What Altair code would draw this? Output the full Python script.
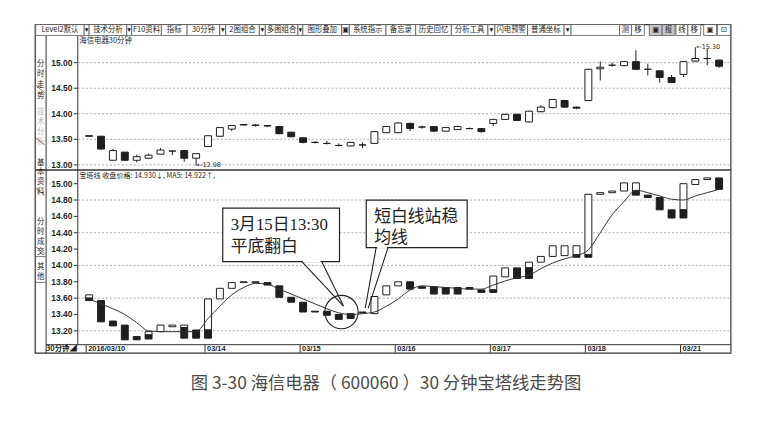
import altair as alt
import pandas as pd

# ------------------------------------------------------------------ data
idx = list(range(54))
opens = [13.57, 13.56, 13.09, 13.25, 13.09, 13.13, 13.21, 13.27, 13.28, 13.13,
         13.36, 13.56, 13.70, 13.79, 13.78, 13.77, 13.75, 13.64, 13.53, 13.44,
         13.42, 13.38, 13.37, 13.39, 13.42, 13.63, 13.63, 13.81, 13.74, 13.75,
         13.66, 13.69, 13.71, 13.71, 13.81, 13.89, 13.99, 13.84, 14.04, 14.12,
         14.26, 14.13, 14.26, 14.88, 14.95, 14.94, 15.02, 14.87, 14.84, 14.71,
         14.77, 15.03, 15.08, 15.05]
closes = [13.56, 13.31, 13.28, 13.09, 13.16, 13.19, 13.29, 13.27, 13.13, 13.22,
          13.57, 13.73, 13.77, 13.78, 13.77, 13.76, 13.61, 13.55, 13.44, 13.44,
          13.42, 13.38, 13.44, 13.39, 13.65, 13.75, 13.82, 13.71, 13.74, 13.66,
          13.73, 13.75, 13.71, 13.65, 13.89, 13.99, 13.87, 14.05, 14.13, 14.28,
          14.13, 14.11, 14.87, 14.91, 14.95, 15.02, 14.87, 14.87, 14.71, 14.61,
          15.02, 15.08, 15.08, 14.93]
highs = [13.58, 13.57, 13.31, 13.25, 13.20, 13.22, 13.33, 13.28, 13.29, 13.22,
         13.58, 13.74, 13.78, 13.80, 13.80, 13.78, 13.76, 13.64, 13.54, 13.46,
         13.47, 13.42, 13.45, 13.44, 13.66, 13.76, 13.83, 13.83, 13.77, 13.75,
         13.73, 13.77, 13.73, 13.72, 13.90, 14.00, 14.00, 14.06, 14.17, 14.28,
         14.27, 14.14, 14.88, 15.02, 15.00, 15.03, 15.24, 14.98, 14.85, 14.76,
         15.03, 15.30, 15.27, 15.06]
lows = [13.55, 13.30, 13.09, 13.08, 13.05, 13.11, 13.21, 13.19, 13.06, 12.98,
        13.35, 13.55, 13.66, 13.77, 13.75, 13.74, 13.60, 13.54, 13.42, 13.42,
        13.40, 13.36, 13.36, 13.33, 13.41, 13.62, 13.62, 13.66, 13.71, 13.64,
        13.66, 13.69, 13.70, 13.63, 13.76, 13.88, 13.86, 13.83, 14.03, 14.11,
        14.12, 14.09, 14.25, 14.65, 14.92, 14.93, 14.86, 14.75, 14.61, 14.60,
        14.72, 15.02, 14.95, 14.90]

ma5 = [13.59, 13.53, 13.47, 13.40, 13.30, 13.20, 13.19, 13.19, 13.19, 13.19,
       13.35, 13.50, 13.64, 13.73, 13.78, 13.77, 13.71, 13.65, 13.59, 13.53,
       13.47, 13.42, 13.40, 13.41, 13.43, 13.50, 13.59, 13.70, 13.75, 13.74,
       13.73, 13.72, 13.71, 13.71, 13.76, 13.81, 13.85, 13.88, 13.96, 14.03,
       14.08, 14.12, 14.19, 14.40, 14.62, 14.78, 14.92, 14.89, 14.85, 14.81,
       14.80, 14.85, 14.89, 14.93]

tower_i = [0, 0, 1, 2, 3, 4, 5, 5, 6, 7, 8, 8, 9, 10, 10, 11, 12, 13, 14, 15,
           16, 17, 18, 19, 20, 21, 22, 23, 24, 25, 26, 27, 28, 29, 30, 31, 32, 33,
           34, 34, 35, 36, 37, 37, 38, 39, 40, 41, 41, 42, 42, 43, 44, 45, 46, 46,
           47, 48, 49, 50, 50, 51, 52, 53]
tower_top = [13.64, 13.60, 13.57, 13.32, 13.27, 13.13, 13.19, 13.15, 13.27, 13.27,
             13.27, 13.24, 13.21, 13.59, 13.21, 13.72, 13.79, 13.80, 13.80, 13.79,
             13.75, 13.61, 13.55, 13.44, 13.44, 13.40, 13.41, 13.43, 13.62, 13.75,
             13.80, 13.80, 13.74, 13.74, 13.73, 13.73, 13.73, 13.70,
             13.87, 13.70, 13.97, 13.97, 14.04, 13.97, 14.11, 14.24, 14.24, 14.24, 14.13,
             14.87, 14.13, 14.89, 14.91, 15.01, 15.01, 14.91,
             14.86, 14.83, 14.68, 15.00, 14.68, 15.05, 15.07, 15.07]
tower_bot = [13.60, 13.57, 13.31, 13.26, 13.09, 13.09, 13.15, 13.10, 13.19, 13.25,
             13.24, 13.11, 13.11, 13.21, 13.11, 13.59, 13.72, 13.79, 13.79, 13.76,
             13.61, 13.55, 13.43, 13.43, 13.39, 13.34, 13.35, 13.42, 13.41, 13.64,
             13.75, 13.71, 13.72, 13.65, 13.65, 13.65, 13.71, 13.67,
             13.70, 13.67, 13.86, 13.84, 13.97, 13.84, 14.04, 14.11, 14.12, 14.13, 14.10,
             14.13, 14.10, 14.87, 14.89, 14.91, 14.91, 14.86,
             14.83, 14.68, 14.58, 14.68, 14.58, 14.99, 15.05, 14.93]
tower_kind = ["up", "down", "down", "down", "down", "down", "up", "down", "up", "up",
              "up", "down", "down", "up", "down", "up", "up", "up", "up", "down",
              "down", "down", "down", "down", "down", "down", "down", "down", "up", "up",
              "up", "down", "down", "down", "down", "down", "down", "down",
              "up", "down", "up", "down", "up", "down", "up", "up", "up", "up", "down",
              "up", "down", "up", "up", "up", "up", "down",
              "down", "down", "down", "up", "down", "up", "up", "down"]

day_start = [0, 10, 18, 26, 34, 42, 50]
day_label = ["2016/03/10", "03/14", "03/15", "03/16", "03/17", "03/18", "03/21"]

upper_ticks = [15.00, 14.50, 14.00, 13.50, 13.00]
lower_ticks = [15.00, 14.80, 14.60, 14.40, 14.20, 14.00, 13.80, 13.60, 13.40, 13.20]
lower_grid = [14.80, 14.40, 14.00, 13.60, 13.20]

marker_i = [9, 51]
marker_v = [12.98, 15.30]
marker_t = ["←12.98", "←15.30"]

toolbar_items = [("Level2默认", 36, 85), ("▾", 85, 90), ("技术分析", 90, 128), ("▾", 128, 133),
                 ("F10资料", 133, 163), ("指标", 163, 189), ("30分钟", 189, 222), ("▾", 222, 228),
                 ("2图组合", 228, 262), ("▾", 262, 268), ("多图组合", 268, 301), ("▾", 301, 306),
                 ("图形叠加", 306, 345), ("▣", 345, 353), ("系统指示", 353, 390), ("备忘录", 390, 420),
                 ("历史回忆", 420, 456), ("分析工具", 456, 493), ("▾", 493, 500), ("闪电预警", 500, 533),
                 ("普通坐标", 533, 570), ("▾", 570, 577), ("", 577, 626), ("测", 626, 638),
                 ("移", 638, 651), ("▣", 656, 669), ("报", 669, 682), ("线", 683, 695),
                 ("移", 695, 708), ("▣", 711, 724), ("⊡", 725, 738)]
toolbar_shaded = {"▣656", "报669"}

# ------------------------------------------------------------------ helpers
OFF = 8  # page margin


def V(v):
    return v - OFF


CJK = "'Noto Sans CJK SC', sans-serif"
LAT = "'Liberation Sans', 'Noto Sans CJK SC', sans-serif"
SERIF = "'Liberation Serif', 'Noto Sans CJK SC', serif"
INK = "#1e1e1e"

one = pd.DataFrame({"k": [0]})

XS = alt.Scale(domain=[0, 53], range=[V(85), V(85 + 12.2 * 53)], nice=False, zero=False)
UY = alt.Scale(domain=[13.0, 15.0], range=[V(164.3), V(61)], nice=False, zero=False)
LY = alt.Scale(domain=[13.2, 15.0], range=[V(332), V(183.3)], nice=False, zero=False)
FILL = alt.Scale(domain=["up", "down"], range=["#ffffff", INK])


def X(field="i:Q"):
    return alt.X(field, scale=XS, axis=None)


def vrule(x0, y0, x1, y1, color="#333", width=1.0, dash=None):
    kw = dict(color=color, strokeWidth=width)
    if dash:
        kw["strokeDash"] = dash
    return alt.Chart(one).mark_rule(**kw).encode(
        x=alt.value(V(x0)), y=alt.value(V(y0)), x2=alt.value(V(x1)), y2=alt.value(V(y1)))


def vrect(x0, y0, x1, y1, fill="#ffffff", stroke="#333", width=1.0):
    return alt.Chart(one).mark_rect(fill=fill, stroke=stroke, strokeWidth=width).encode(
        x=alt.value(V(x0)), y=alt.value(V(y0)), x2=alt.value(V(x1)), y2=alt.value(V(y1)))


def vtext(x, y, text, **kw):
    base = dict(baseline="middle", align="left", font=CJK, fontSize=8, color=INK)
    base.update(kw)
    return alt.Chart(one).mark_text(**base).encode(
        x=alt.value(V(x)), y=alt.value(V(y)), text=alt.value(text))


layers = []

# ------------------------------------------------------------------ frame & toolbar
layers.append(vrect(35.5, 22.5, 738.5, 354.5, fill="#ffffff", stroke="#333", width=1.2))
for lab, x0, x1 in toolbar_items:
    shaded = (lab + str(x0)) in toolbar_shaded
    layers.append(vrect(x0, 22.5, x1, 33.5, fill="#c8c8c8" if shaded else "#ffffff",
                        stroke="#555", width=0.8))
    if lab:
        layers.append(vtext((x0 + x1) / 2, 28.2, lab, align="center", fontSize=7.5,
                            font=CJK if lab not in ("▾", "▣", "⊡") else "'DejaVu Sans'"))

# structural lines
layers.append(vrule(46.5, 34, 46.5, 354.5, width=1))
layers.append(vrule(78.5, 34, 78.5, 346, width=1))
layers.append(vrule(35.5, 169.5, 738.5, 169.5, width=1.6))
layers.append(vrule(46.5, 346, 738.5, 346, width=1))

# left tabs
layers.append(vtext(41, 62, "分\n时\n走\n势", align="center", fontSize=7.5, lineBreak="\n", lineHeight=11))
layers.append(vtext(41, 111, "技\n术\n分\n析", align="center", fontSize=7.5, lineBreak="\n",
                    lineHeight=10, color="#b5b5b5"))
layers.append(vtext(41, 162, "基\n本\n资\n料", align="center", fontSize=7.5, lineBreak="\n", lineHeight=10))
layers.append(vtext(41, 222, "分\n时\n成\n交", align="center", fontSize=7.5, lineBreak="\n", lineHeight=10))
layers.append(vtext(41, 268, "其\n他", align="center", fontSize=7.5, lineBreak="\n", lineHeight=10))
for y0 in (84, 137, 188, 247):
    layers.append(vrule(36, y0, 45, y0 + 7, color="#555", width=0.8))
layers.append(vrule(36, 257, 46, 257, color="#555", width=0.8))
layers.append(vrule(36, 283, 46, 283, color="#555", width=0.8))

# bottom-left period box
layers.append(vtext(62, 350.3, "30分钟◢", align="center", fontSize=7.5, fontWeight="bold"))

# ------------------------------------------------------------------ upper panel (candles)
ut = pd.DataFrame({"v": upper_ticks})
layers.append(alt.Chart(ut).mark_rule(color="#9a9a9a", strokeWidth=0.8, strokeDash=[2, 2]).encode(
    y=alt.Y("v:Q", scale=UY, axis=None), x=alt.value(V(79)), x2=alt.value(V(738))))
layers.append(alt.Chart(ut).mark_rule(color="#333", strokeWidth=1).encode(
    y=alt.Y("v:Q", scale=UY, axis=None), x=alt.value(V(74.5)), x2=alt.value(V(78.5))))
layers.append(alt.Chart(ut).mark_text(align="right", baseline="middle", font=LAT, fontSize=8.5,
                                      fontWeight="bold", color=INK).encode(
    y=alt.Y("v:Q", scale=UY, axis=None), x=alt.value(V(73)), text=alt.Text("v:Q", format=".2f")))
layers.append(vtext(80, 39, "海信电器30分钟", fontSize=7.5))

cdf = pd.DataFrame({"i": idx, "o": opens, "h": highs, "l": lows, "c": closes})
cdf["dir"] = ["up" if c >= o else "down" for o, c in zip(opens, closes)]
layers.append(alt.Chart(cdf).mark_rule(color=INK, strokeWidth=1).encode(
    x=X(), y=alt.Y("l:Q", scale=UY, axis=None), y2="h:Q"))
layers.append(alt.Chart(cdf).mark_bar(size=7, stroke=INK, strokeWidth=1, orient="vertical").encode(
    x=X(), y=alt.Y("o:Q", scale=UY, axis=None), y2="c:Q",
    fill=alt.Fill("dir:N", scale=FILL, legend=None)))

mdf = pd.DataFrame({"i": marker_i, "v": marker_v, "t": marker_t})
layers.append(alt.Chart(mdf).mark_text(align="left", baseline="middle", font="'DejaVu Sans'",
                                       fontSize=6.5, color=INK, dx=1, dy=-0.5).encode(
    x=X(), y=alt.Y("v:Q", scale=UY, axis=None), text="t:N"))

# ------------------------------------------------------------------ lower panel (tower line)
lg = pd.DataFrame({"v": lower_grid})
layers.append(alt.Chart(lg).mark_rule(color="#9a9a9a", strokeWidth=0.8, strokeDash=[2, 2]).encode(
    y=alt.Y("v:Q", scale=LY, axis=None), x=alt.value(V(79)), x2=alt.value(V(738))))
lt = pd.DataFrame({"v": lower_ticks})
layers.append(alt.Chart(lt).mark_rule(color="#333", strokeWidth=1).encode(
    y=alt.Y("v:Q", scale=LY, axis=None), x=alt.value(V(74.5)), x2=alt.value(V(78.5))))
layers.append(alt.Chart(lt).mark_text(align="right", baseline="middle", font=LAT, fontSize=8.5,
                                      fontWeight="bold", color=INK).encode(
    y=alt.Y("v:Q", scale=LY, axis=None), x=alt.value(V(73)), text=alt.Text("v:Q", format=".2f")))
layers.append(vtext(80, 175.5, "宝塔线 收盘价格: 14.930↓, MA5: 14.922↑,", fontSize=7.2))

tdf = pd.DataFrame({"i": tower_i, "top": tower_top, "bot": tower_bot, "kind": tower_kind})
layers.append(alt.Chart(tdf).mark_bar(size=7, stroke=INK, strokeWidth=1, orient="vertical").encode(
    x=X(), y=alt.Y("top:Q", scale=LY, axis=None), y2="bot:Q",
    fill=alt.Fill("kind:N", scale=FILL, legend=None)))

madf = pd.DataFrame({"i": idx, "m": ma5})
layers.append(alt.Chart(madf).mark_line(color="#333", strokeWidth=1, interpolate="monotone").encode(
    x=X(), y=alt.Y("m:Q", scale=LY, axis=None)))

# date labels along bottom strip
ddf = pd.DataFrame({"i": day_start, "t": day_label})
layers.append(alt.Chart(ddf).mark_text(align="left", baseline="middle", font=LAT, fontSize=7.5,
                                       fontWeight="bold", color=INK, dx=-1).encode(
    x=X(), y=alt.value(V(350.3)), text="t:N"))
layers.append(alt.Chart(ddf).mark_rule(color="#333", strokeWidth=1, xOffset=-3).encode(
    x=X(), y=alt.value(V(346)), y2=alt.value(V(354))))

# ------------------------------------------------------------------ annotations
layers.append(vrect(225, 208, 343, 262, fill="#ffffff", stroke="#222", width=1.2))
layers.append(vrule(306, 262, 324, 262, color="#ffffff", width=2))
layers.append(vrule(305, 262, 347, 307, color="#222", width=1.1))
layers.append(vrule(325, 262, 347, 307, color="#222", width=1.1))
layers.append(vtext(233, 225, "3月15日13:30", font=SERIF, fontSize=17, color="#222"))
layers.append(vtext(233, 247, "平底翻白", font=SERIF, fontSize=17, color="#222"))

layers.append(vrect(370, 200, 472, 248, fill="#ffffff", stroke="#222", width=1.2))
layers.append(vrule(381, 248, 391, 248, color="#ffffff", width=2))
layers.append(vrule(380, 248, 369, 309, color="#222", width=1.1))
layers.append(vrule(392, 248, 372, 309, color="#222", width=1.1))
layers.append(vtext(378, 217, "短白线站稳", font=SERIF, fontSize=17, color="#222"))
layers.append(vtext(378, 238, "均线", font=SERIF, fontSize=17, color="#222"))

layers.append(alt.Chart(one).mark_point(shape="circle", filled=False, size=1134, stroke="#222",
                                        strokeWidth=1.1, opacity=1).encode(
    x=alt.value(V(345)), y=alt.value(V(313))))

# caption
layers.append(vtext(390, 386, "图 3-30  海信电器（ 600060 ）30 分钟宝塔线走势图", align="center",
                    fontSize=17.5, color="#4a4a4a"))

chart = alt.layer(*layers).resolve_scale(y="independent").properties(
    width=768, height=423, padding=0, background="#ffffff",
    autosize=alt.AutoSizeParams(type="none"),
).configure_view(strokeWidth=0)

chart.save("out.html", embed_options={"renderer": "svg", "actions": False})
